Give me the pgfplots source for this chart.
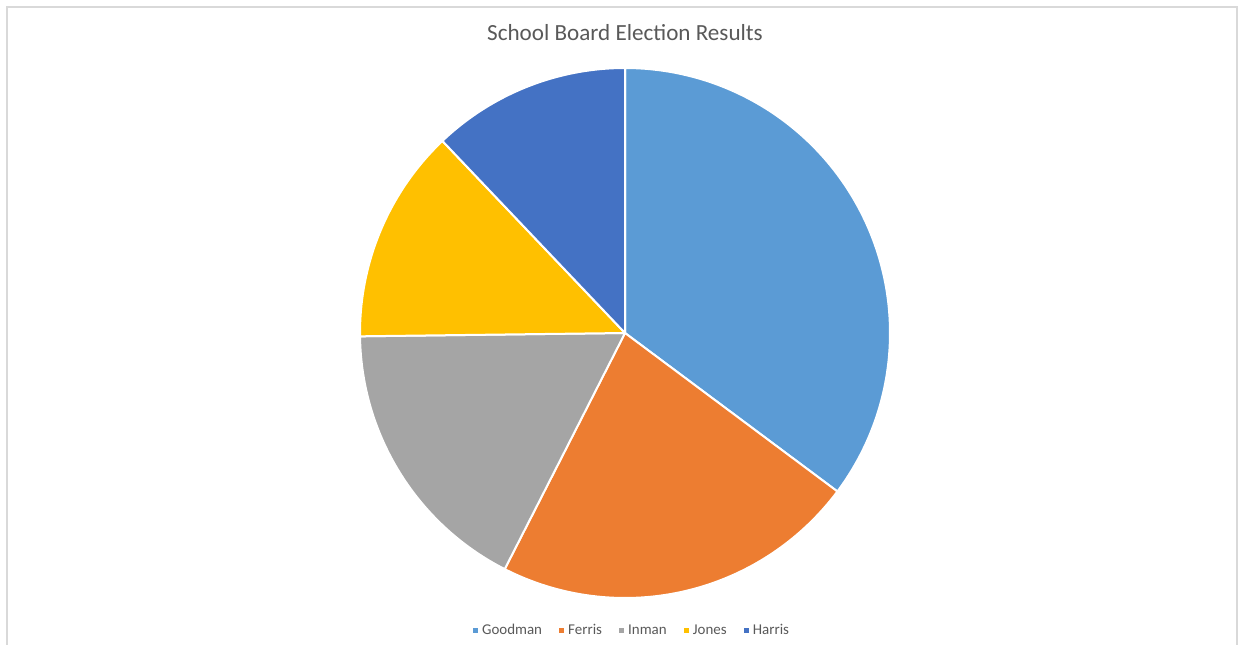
\documentclass[border=0pt]{standalone}
\usepackage{pgfplots}
\pgfplotsset{compat=1.18}
\usepackage{pgfplotstable}
\usepackage{fontspec}
\setmainfont{Carlito}
\definecolor{c0}{HTML}{5B9BD5}
\definecolor{c1}{HTML}{ED7D31}
\definecolor{c2}{HTML}{A5A5A5}
\definecolor{c3}{HTML}{FFC000}
\definecolor{c4}{HTML}{4472C4}
\definecolor{txt}{HTML}{595959}
\definecolor{frame}{HTML}{D9D9D9}

\pgfplotstableread{
name value
Goodman 35.2
Ferris 22.3
Inman 17.3
Jones 13.1
Harris 12.1
}\piedata

\begin{document}
\begin{tikzpicture}
\useasboundingbox (0,0) rectangle (622bp,322.5bp);
\fill[white] (0,0) rectangle (622bp,322.5bp);
\draw[color=frame, line width=0.6bp] (3.5bp,-1bp) -- (3.5bp,319bp) -- (618.5bp,319bp) -- (618.5bp,-1bp);
\node[anchor=base, text=txt, font=\fontsize{11.6}{14}\selectfont, inner sep=0pt] at (312.5bp,302bp) {School Board Election Results};
\begin{axis}[
  anchor=origin, at={(312.5bp,156bp)},
  x=132.5bp, y=132.5bp,
  xmin=-1, xmax=1, ymin=-1, ymax=1,
  hide axis, clip=false,
  legend columns=-1,
  legend style={at={(0.515,-0.062)}, anchor=center, draw=none, fill=none,
    font=\fontsize{7.5}{9}\selectfont, text=txt,
    /tikz/every even column/.append style={column sep=6.5bp}},
  legend image code/.code={\fill[#1, draw=none] (-1.6bp,-1.3bp) rectangle (1.0bp,1.3bp);},
]
\def\startang{90}
\pgfplotsforeachungrouped \i in {0,...,4}{%
  \pgfplotstablegetelem{\i}{value}\of\piedata
  \pgfmathsetmacro\endang{\startang-3.6*\pgfplotsretval}%
  \pgfplotstablegetelem{\i}{name}\of\piedata
  \edef\temp{\noexpand\addplot[data cs=polar, fill=c\i, draw=white, line width=1bp, line join=round, domain=\endang:\startang, samples=120, variable=\noexpand\t] ({\noexpand\t},{1}) -- (axis cs:0,0) -- cycle; \noexpand\addlegendentry{\pgfplotsretval}}%
  \temp
  \let\startang\endang
}
\end{axis}
\end{tikzpicture}
\end{document}
